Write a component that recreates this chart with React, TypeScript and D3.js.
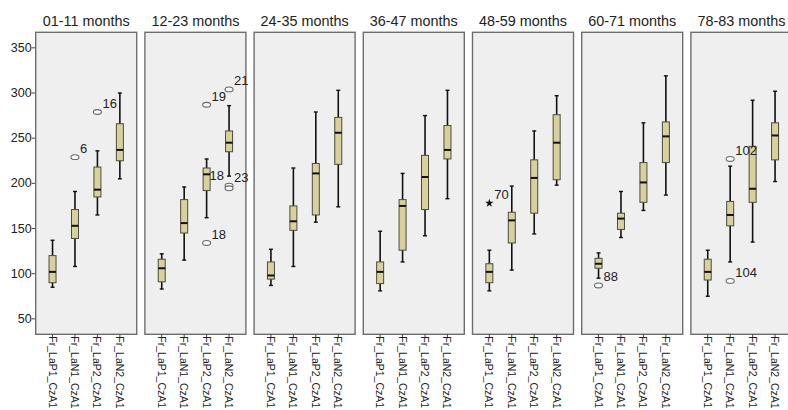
import React from "react";
import * as d3 from "d3";

const panels = ["01-11 months", "12-23 months", "24-35 months", "36-47 months", "48-59 months", "60-71 months", "78-83 months"];
const variables = ["Fr_LaP1_CzA1", "Fr_LaN1_CzA1", "Fr_LaP2_CzA1", "Fr_LaN2_CzA1"];
const yTicks = [50, 100, 150, 200, 250, 300, 350];

// [whiskerLow, q1, median, q3, whiskerHigh] per panel, per variable
const boxStats: number[][][] = [
  [[85, 90, 102, 120, 137], [108, 139, 153, 171, 191], [165, 185, 193, 218, 236], [205, 225, 237, 266, 300]],
  [[83, 91, 106, 116, 122], [115, 145, 156, 182, 196], [162, 192, 210, 217, 227], [208, 235, 245, 258, 286]],
  [[87, 94, 98, 113, 127], [108, 148, 158, 175, 217], [157, 165, 211, 222, 279], [174, 221, 256, 273, 303]],
  [[81, 89, 102, 113, 147], [113, 126, 175, 182, 211], [142, 171, 207, 231, 275], [183, 227, 237, 264, 303]],
  [[81, 90, 102, 111, 126], [104, 134, 159, 168, 197], [144, 167, 206, 226, 258], [198, 204, 245, 276, 297]],
  [[95, 106, 111, 117, 123], [140, 149, 161, 167, 191], [170, 179, 201, 223, 267], [187, 223, 252, 268, 319]],
  [[75, 93, 102, 116, 126], [113, 153, 165, 180, 219], [135, 179, 194, 241, 292], [202, 226, 253, 267, 302]],
];

// outliers: panel index, variable index, value, case label, kind
const outlierPanel = [0, 0, 1, 1, 1, 1, 1, 4, 5, 6, 6];
const outlierVar = [1, 2, 2, 2, 3, 3, 3, 0, 0, 1, 1];
const outlierValue = [229, 279, 287, 134, 304, 197.5, 194.5, 178, 87, 227, 92];
const outlierLabel = ["6", "16", "19", "18", "21", "23", "18", "70", "88", "102", "104"];
const outlierKind = ["o", "o", "o", "o", "o", "o", "o", "*", "o", "o", "o"];

const W = 788;
const H = 410;
const panelLeft0 = 35.7;
const panelStep = 109.2;
const panelW = 101;
const top = 32.3;
const bottom = 334.3;
const font = "'Liberation Sans', Arial, sans-serif";

export default function App() {
  const y = d3.scaleLinear().domain([32.9, 367.2]).range([bottom, top]);
  const x = d3.scalePoint<string>().domain(variables).range([0, panelW]).padding(0.75);
  const boxW = 7;
  const capW = 4;

  return (
    <svg width={W} height={H} style={{ position: "absolute", left: 0, top: 0, background: "#fff" }} fontFamily={font}>
      {/* y axis */}
      {yTicks.map((t) => (
        <g key={t}>
          <line x1={panelLeft0 - 4} x2={panelLeft0} y1={y(t)} y2={y(t)} stroke="#444" strokeWidth={1} />
          <text x={panelLeft0 - 4} y={y(t)} textAnchor="end" dominantBaseline="central" fontSize={12.5} fill="#222">
            {t}
          </text>
        </g>
      ))}
      {panels.map((p, pi) => {
        const left = panelLeft0 + pi * panelStep;
        return (
          <g key={p} transform={`translate(${left},0)`}>
            <rect x={0} y={top} width={panelW} height={bottom - top} fill="#efefef" stroke="#6e6e6e" strokeWidth={1.4} />
            <text x={panelW / 2} y={top - 6} textAnchor="middle" fontSize={14.4} fill="#222">
              {p}
            </text>
            {variables.map((v, vi) => {
              const cx = x(v) as number;
              const [lo, q1, med, q3, hi] = boxStats[pi][vi];
              return (
                <g key={v}>
                  <line x1={cx} x2={cx} y1={y(hi)} y2={y(lo)} stroke="#111" strokeWidth={1.6} />
                  <line x1={cx - capW / 2} x2={cx + capW / 2} y1={y(hi)} y2={y(hi)} stroke="#111" strokeWidth={1.4} />
                  <line x1={cx - capW / 2} x2={cx + capW / 2} y1={y(lo)} y2={y(lo)} stroke="#111" strokeWidth={1.4} />
                  <rect x={cx - boxW / 2} y={y(q3)} width={boxW} height={y(q1) - y(q3)} fill="#d7d19c" stroke="#4d4c3c" strokeWidth={1} />
                  <line x1={cx - boxW / 2} x2={cx + boxW / 2} y1={y(med)} y2={y(med)} stroke="#111" strokeWidth={2} />
                  <line x1={cx} x2={cx} y1={bottom} y2={bottom + 4} stroke="#444" strokeWidth={1} />
                  <text
                    transform={`translate(${cx},${bottom + 2}) rotate(90)`}
                    x={0}
                    y={0}
                    dominantBaseline="central"
                    fontSize={10.5}
                    fill="#222"
                  >
                    {v}
                  </text>
                </g>
              );
            })}
            {outlierValue.map((val, oi) => {
              if (outlierPanel[oi] !== pi) return null;
              const vi = outlierVar[oi];
              const cx = x(variables[vi]) as number;
              const cy = y(val);
              // label to the left when another outlier of the same box is stacked just above
              const stacked = outlierValue.some(
                (o2, j) => j < oi && outlierPanel[j] === pi && outlierVar[j] === vi && Math.abs(o2 - val) < 6
              );
              const lx = stacked ? cx - 5 : cx + 5;
              const ly = stacked ? cy - 8 : cy - 4;
              return (
                <g key={oi}>
                  {outlierKind[oi] === "*" ? (
                    <path d={d3.symbol(d3.symbolStar, 22)() as string} transform={`translate(${cx},${cy})`} fill="#111" />
                  ) : (
                    <ellipse cx={cx} cy={cy} rx={4} ry={2.4} fill="#fafafa" stroke="#6a6a6a" strokeWidth={1.1} />
                  )}
                  <text x={lx} y={ly} textAnchor={stacked ? "end" : "start"} fontSize={13} fill="#222">
                    {outlierLabel[oi]}
                  </text>
                </g>
              );
            })}
          </g>
        );
      })}
    </svg>
  );
}
